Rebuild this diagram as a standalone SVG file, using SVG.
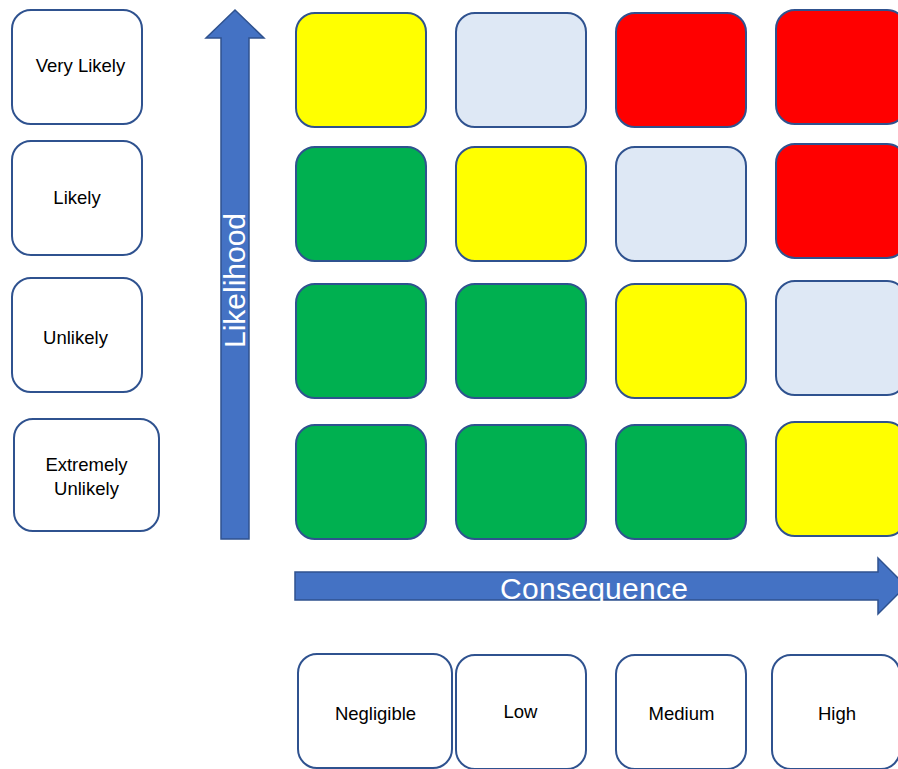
<svg xmlns="http://www.w3.org/2000/svg" width="898" height="769" viewBox="0 0 898 769">
  <style>
    .box { fill: #ffffff; stroke: #2F528F; stroke-width: 2; }
    .cell { stroke: #2F528F; stroke-width: 2; }
    .yellow { fill: #FFFF00; }
    .pale { fill: #DEE8F5; }
    .red { fill: #FF0000; }
    .green { fill: #00B050; }
    .arrow { fill: #4472C4; stroke: #2F528F; stroke-width: 1.5; }
    .label { font-family: "Liberation Sans", Arial, sans-serif; font-size: 18.5px; fill: #000000; text-anchor: middle; }
    .axis { font-family: "Liberation Sans", Arial, sans-serif; font-size: 30px; fill: #ffffff; text-anchor: middle; }
  </style>
  <rect width="898" height="769" fill="#ffffff"/>

  <!-- likelihood levels -->
  <g id="very-likely">
    <rect class="box" x="12" y="10" width="130" height="114" rx="19"/>
    <text class="label" x="80.5" y="72">Very Likely</text>
  </g>
  <g id="likely">
    <rect class="box" x="12" y="141" width="130" height="114" rx="19"/>
    <text class="label" x="77" y="204">Likely</text>
  </g>
  <g id="unlikely">
    <rect class="box" x="12" y="278" width="130" height="114" rx="19"/>
    <text class="label" x="75.5" y="344">Unlikely</text>
  </g>
  <g id="extremely-unlikely">
    <rect class="box" x="14" y="419" width="145" height="112" rx="19"/>
    <text class="label" x="86.5" y="471">Extremely</text>
    <text class="label" x="86.5" y="495">Unlikely</text>
  </g>

  <!-- axis arrows -->
  <g id="connectors">
    <g id="likelihood-axis">
      <polygon class="arrow" points="235,10 264,38 249,38 249,539 221,539 221,38 206,38"/>
      <text class="axis" transform="translate(245,280.5) rotate(-90)" x="0" y="0" textLength="135">Likelihood</text>
    </g>
    <g id="consequence-axis">
      <polygon class="arrow" points="295,572 878,572 878,558 906,586 878,614 878,600 295,600"/>
      <text class="axis" x="594" y="599" textLength="188">Consequence</text>
    </g>
  </g>

  <!-- risk matrix, rows top (very likely) to bottom -->
  <g id="matrix">
    <g id="row-very-likely">
      <rect class="cell yellow" x="296" y="13" width="130" height="114" rx="19"/>
      <rect class="cell pale" x="456" y="13" width="130" height="114" rx="19"/>
      <rect class="cell red" x="616" y="13" width="130" height="114" rx="19"/>
      <rect class="cell red" x="776" y="10" width="130" height="114" rx="19"/>
    </g>
    <g id="row-likely">
      <rect class="cell green" x="296" y="147" width="130" height="114" rx="19"/>
      <rect class="cell yellow" x="456" y="147" width="130" height="114" rx="19"/>
      <rect class="cell pale" x="616" y="147" width="130" height="114" rx="19"/>
      <rect class="cell red" x="776" y="144" width="130" height="114" rx="19"/>
    </g>
    <g id="row-unlikely">
      <rect class="cell green" x="296" y="284" width="130" height="114" rx="19"/>
      <rect class="cell green" x="456" y="284" width="130" height="114" rx="19"/>
      <rect class="cell yellow" x="616" y="284" width="130" height="114" rx="19"/>
      <rect class="cell pale" x="776" y="281" width="130" height="114" rx="19"/>
    </g>
    <g id="row-extremely-unlikely">
      <rect class="cell green" x="296" y="425" width="130" height="114" rx="19"/>
      <rect class="cell green" x="456" y="425" width="130" height="114" rx="19"/>
      <rect class="cell green" x="616" y="425" width="130" height="114" rx="19"/>
      <rect class="cell yellow" x="776" y="422" width="130" height="114" rx="19"/>
    </g>
  </g>

  <!-- consequence levels -->
  <g id="negligible">
    <rect class="box" x="298" y="654" width="154" height="114" rx="19"/>
    <text class="label" x="375.5" y="720">Negligible</text>
  </g>
  <g id="low">
    <rect class="box" x="456" y="655" width="130" height="114" rx="19"/>
    <text class="label" x="520.5" y="718">Low</text>
  </g>
  <g id="medium">
    <rect class="box" x="616" y="655" width="130" height="114" rx="19"/>
    <text class="label" x="681.5" y="720">Medium</text>
  </g>
  <g id="high">
    <rect class="box" x="772" y="655" width="128" height="114" rx="19"/>
    <text class="label" x="837" y="720">High</text>
  </g>
</svg>
